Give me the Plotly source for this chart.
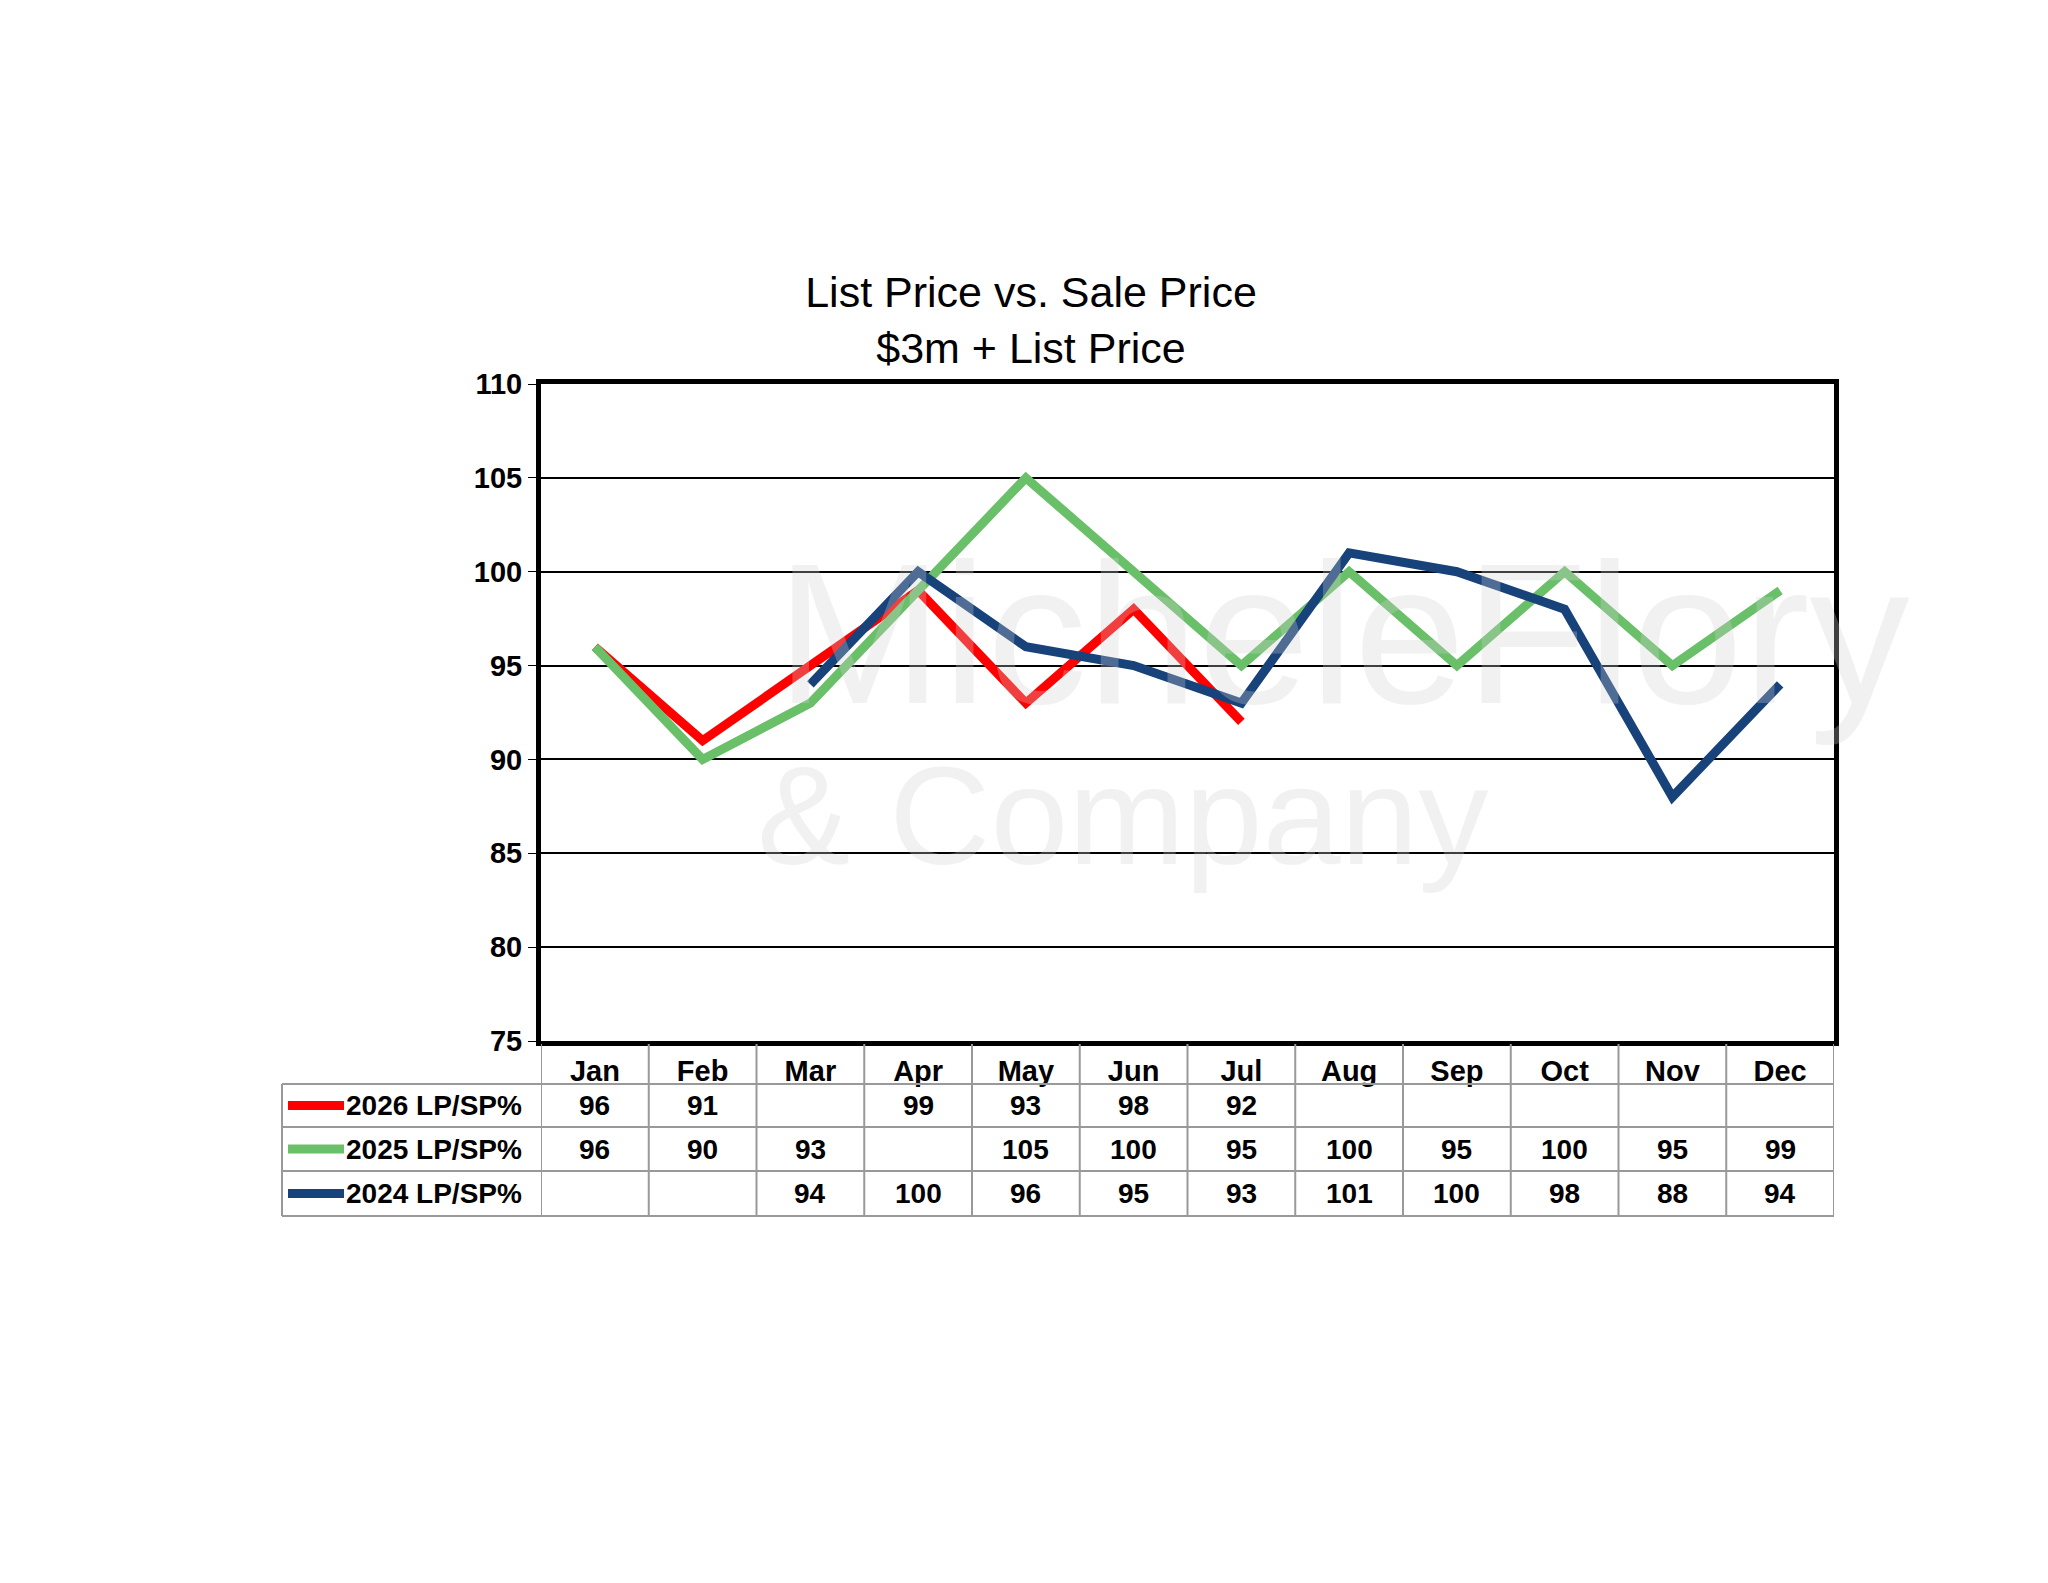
import plotly.graph_objects as go

months = ["Jan", "Feb", "Mar", "Apr", "May", "Jun", "Jul", "Aug", "Sep", "Oct", "Nov", "Dec"]
lp_2026 = [96, 91, None, 99, 93, 98, 92, None, None, None, None, None]
lp_2025 = [96, 90, 93, None, 105, 100, 95, 100, 95, 100, 95, 99]
lp_2024 = [None, None, 94, 100, 96, 95, 93, 101, 100, 98, 88, 94]
series = [("2026 LP/SP%", lp_2026, "#ff0000"),
          ("2025 LP/SP%", lp_2025, "#6abf69"),
          ("2024 LP/SP%", lp_2024, "#17427a")]

W, H = 2048, 1583
L, R, T, B = 533, 1826, 376, 1033
FONT = "Liberation Sans, Arial"


def px(x):
    return (x - L) / (R - L)


def py(y):
    return (B - y) / (B - T)


fig = go.Figure()
xs = list(range(12))
for name, vals, col in series:
    fig.add_trace(go.Scatter(x=xs, y=vals, mode="lines", name=name, connectgaps=True,
                             line=dict(color=col, width=9), showlegend=False))

# watermark
fig.add_annotation(x=0.62, y=0.62, xref="paper", yref="paper", text="MicheleFlory",
                   showarrow=False, font=dict(size=200, color="rgba(210,210,210,0.3)", family=FONT))
fig.add_annotation(x=0.45, y=0.22, xref="paper", yref="paper", text="& Company",
                   showarrow=False, font=dict(size=140, color="rgba(210,210,210,0.3)", family=FONT))

shapes = []
grid = "#999999"
rows_y = [1036, 1076, 1119, 1163, 1208]
for i in range(13):
    shapes.append(dict(type="line", xref="x", yref="paper", x0=i - 0.5, x1=i - 0.5,
                       y0=py(rows_y[0]), y1=py(rows_y[-1]), line=dict(color=grid, width=2)))
shapes.append(dict(type="line", xref="paper", yref="paper", x0=px(274), x1=px(274),
                   y0=py(rows_y[1]), y1=py(rows_y[-1]), line=dict(color=grid, width=2)))
for yy in rows_y[1:]:
    shapes.append(dict(type="line", xref="paper", yref="paper", x0=px(274), x1=1,
                       y0=py(yy), y1=py(yy), line=dict(color=grid, width=2)))

for r, (name, vals, col) in enumerate(series):
    yc = (rows_y[r + 1] + rows_y[r + 2]) / 2
    shapes.append(dict(type="line", xref="paper", yref="paper", x0=px(280), x1=px(336),
                       y0=py(yc), y1=py(yc), line=dict(color=col, width=9)))
    fig.add_annotation(x=px(336), y=py(yc), xref="paper", yref="paper", text="<b>%s</b>" % name,
                       xanchor="left", yanchor="middle", showarrow=False,
                       font=dict(size=28, color="black", family=FONT))
    for i, v in enumerate(vals):
        if v is not None:
            fig.add_annotation(x=i, y=py(yc), xref="x", yref="paper", text="<b>%d</b>" % v,
                               yanchor="middle", showarrow=False,
                               font=dict(size=28, color="black", family=FONT))

fig.update_layout(
    width=W, height=H, paper_bgcolor="white", plot_bgcolor="white",
    margin=dict(l=L, r=W - R, t=T, b=H - B),
    title=dict(text="List Price vs. Sale Price<br>$3m + List Price", x=1023 / W,
               xanchor="center", y=1 - 299 / H, yanchor="middle",
               font=dict(size=43, color="black", family=FONT)),
    shapes=shapes,
    font=dict(family=FONT, color="black"),
)
fig.update_xaxes(range=[-0.5, 11.5], tickvals=xs, ticktext=["<b>%s</b>" % m for m in months],
                 tickfont=dict(size=29), showgrid=False, showline=True, mirror=True,
                 linecolor="black", linewidth=5, ticks="", zeroline=False, ticklabelstandoff=0)
fig.update_yaxes(range=[75, 110], dtick=5, tickfont=dict(size=29), tickformat="d",
                 tickprefix="<b>", ticksuffix="</b>", showgrid=True, gridcolor="black", gridwidth=2,
                 showline=True, mirror=True, linecolor="black", linewidth=5, ticks="outside",
                 ticklen=8, tickcolor="black", zeroline=False)

fig.write_html("out.html")
